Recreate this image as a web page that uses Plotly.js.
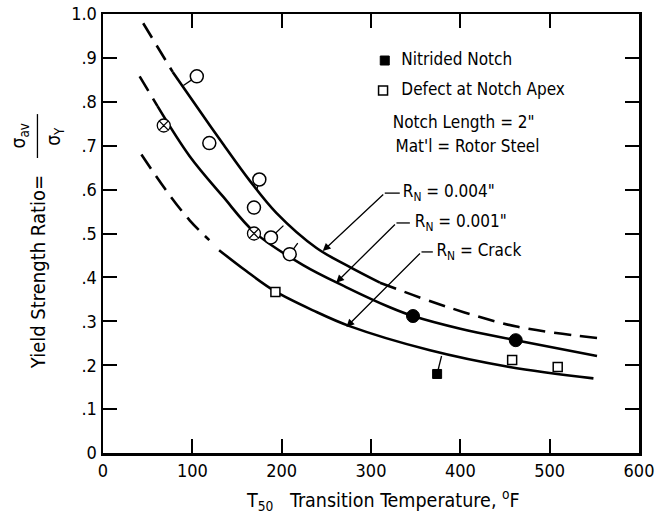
<!DOCTYPE html>
<html><head><meta charset="utf-8">
<script src="https://cdn.plot.ly/plotly-3.0.1.min.js"></script>
<style>html,body{margin:0;padding:0;background:#fff}#chart{width:660px;height:521px}</style>
</head><body><div id="chart"></div>
<script>
// ---- axis ticks ----
const xTickVals = [0, 100, 200, 300, 400, 500, 600];
const xTickText = ['0', '100', '200', '300', '400', '500', '600'];
const yTickVals = [0, 0.1, 0.2, 0.3, 0.4, 0.5, 0.6, 0.7, 0.8, 0.9, 1.0];
const yTickText = ['0', '.1', '.2', '.3', '.4', '.5', '.6', '.7', '.8', '.9', '1.0'];

// ---- curves ----
const rn004X = [45, 78, 108, 134, 164, 194, 239, 276, 310, 385, 463, 553];
const rn004Y = [0.979, 0.868, 0.780, 0.705, 0.621, 0.547, 0.467, 0.424, 0.388, 0.333, 0.288, 0.262];
const rn004Solid = [78, 310];

const rn001X = [41, 61, 97, 134, 170, 224, 272, 321, 347, 400, 462, 553];
const rn001Y = [0.858, 0.790, 0.676, 0.585, 0.502, 0.428, 0.378, 0.332, 0.312, 0.283, 0.257, 0.221];
const rn001Solid = [61, 553];

const crackX = [43, 70, 97, 119, 130, 160, 193, 235, 276, 366, 455, 549];
const crackY = [0.680, 0.600, 0.530, 0.485, 0.462, 0.415, 0.368, 0.325, 0.289, 0.234, 0.196, 0.170];
const crackDashEnd = 119;
const crackSolid = [130, 549];

// ---- test points ----
const openCircleX = [105, 119, 175, 169, 188, 209];
const openCircleY = [0.858, 0.706, 0.623, 0.559, 0.491, 0.453];
const crossCircleX = [68, 169];
const crossCircleY = [0.746, 0.500];
const filledCircleX = [347, 462];
const filledCircleY = [0.312, 0.257];
const defectSquareX = [193, 458, 509];
const defectSquareY = [0.367, 0.212, 0.196];
const nitridedX = [374];
const nitridedY = [0.180];

// tags from points to curves
const tagX = [105, 90, null, 175, 172, null, 188, 202, null, 209, 218, null, 374, 379];
const tagY = [0.858, 0.837, null, 0.623, 0.598, null, 0.491, 0.518, null, 0.453, 0.478, null, 0.180, 0.221];

// curve labels with leaders
const curveLabels = ['R<sub>N</sub> = 0.004"', 'R<sub>N</sub> = 0.001"', 'R<sub>N</sub> = Crack'];
const labelTipX = [246, 261, 272.5];
const labelTipY = [0.460, 0.388, 0.287];
const labelElbowX = [315.4, 328.5, 356.5];
const labelElbowY = [0.592, 0.524, 0.458];
const labelEndX = [332.2, 343.5, 369.2];
const labelTextX = [335.6, 349, 373.3];

// key / notes
const keyLabels = ['Nitrided Notch', 'Defect at Notch Apex'];
const noteLabels = ['Notch Length = 2"', "Mat'l = Rotor Steel"];

const FONT = '"Liberation Sans Narrow", "DejaVu Sans Condensed", "Roboto Condensed", "Arial Narrow", "Open Sans", sans-serif';
const BLACK = '#000';

function seg(xs, ys, lo, hi) {
  const ox = [], oy = [];
  xs.forEach((x, i) => { if (x >= lo && x <= hi) { ox.push(x); oy.push(ys[i]); } });
  return [ox, oy];
}
function lineTrace(xy, dashed) {
  return {x: xy[0], y: xy[1], mode: 'lines', type: 'scatter', hoverinfo: 'skip',
    line: {color: BLACK, width: 2.6, shape: 'spline', smoothing: 1.0,
           dash: dashed ? '17px,9px' : 'solid'}};
}
function textTrace(xs, ys, texts, size) {
  return {x: xs, y: ys, text: texts, mode: 'text', type: 'scatter', hoverinfo: 'skip',
    textposition: 'middle right', textfont: {family: FONT, size: size, color: BLACK}};
}

const traces = [];
traces.push(lineTrace(seg(rn004X, rn004Y, rn004X[0], rn004Solid[0]), true));
traces.push(lineTrace(seg(rn004X, rn004Y, rn004Solid[0], rn004Solid[1]), false));
traces.push(lineTrace(seg(rn004X, rn004Y, rn004Solid[1], rn004X[rn004X.length - 1]), true));
traces.push(lineTrace(seg(rn001X, rn001Y, rn001X[0], rn001Solid[0]), true));
traces.push(lineTrace(seg(rn001X, rn001Y, rn001Solid[0], rn001Solid[1]), false));
traces.push(lineTrace(seg(crackX, crackY, crackX[0], crackDashEnd), true));
traces.push(lineTrace(seg(crackX, crackY, crackSolid[0], crackSolid[1]), false));

traces.push({x: tagX, y: tagY, mode: 'lines', hoverinfo: 'skip', connectgaps: false,
  line: {color: BLACK, width: 1.3}});

traces.push({x: openCircleX, y: openCircleY, mode: 'markers',
  marker: {symbol: 'circle', size: 13, color: '#fff', line: {color: BLACK, width: 1.5}}});
traces.push({x: crossCircleX, y: crossCircleY, mode: 'markers',
  marker: {symbol: 'circle-x', size: 13, color: '#fff', line: {color: BLACK, width: 1.3}}});
traces.push({x: filledCircleX, y: filledCircleY, mode: 'markers',
  marker: {symbol: 'circle', size: 13, color: BLACK, line: {color: BLACK, width: 1}}});
traces.push({x: defectSquareX, y: defectSquareY, mode: 'markers',
  marker: {symbol: 'square', size: 9, color: '#fff', line: {color: BLACK, width: 1.5}}});
traces.push({x: nitridedX, y: nitridedY, mode: 'markers',
  marker: {symbol: 'square', size: 9, color: BLACK, line: {color: BLACK, width: 1}}});

// key markers
traces.push({x: [315.4], y: [0.894], mode: 'markers',
  marker: {symbol: 'square', size: 9, color: BLACK, line: {color: BLACK, width: 1}}});
traces.push({x: [313.5], y: [0.826], mode: 'markers',
  marker: {symbol: 'square', size: 9, color: '#fff', line: {color: BLACK, width: 1.5}}});

// horizontal texts
traces.push(textTrace([334, 334], [0.894, 0.826], keyLabels, 17));
traces.push(textTrace([324.4, 327.4], [0.751, 0.696], noteLabels, 17));
traces.push(textTrace(labelTextX, labelElbowY, curveLabels, 17));

const annotations = [];
const shapes = [];
const txt = (size) => ({family: FONT, size: size, color: BLACK});

// leader arrows
curveLabels.forEach((t, i) => {
  annotations.push({x: labelTipX[i], y: labelTipY[i], ax: labelElbowX[i], ay: labelElbowY[i],
    xref: 'x', yref: 'y', axref: 'x', ayref: 'y', text: '', showarrow: true,
    arrowhead: 2, arrowsize: 1.2, arrowwidth: 1.3, arrowcolor: BLACK, standoff: 0});
  shapes.push({type: 'line', xref: 'x', yref: 'y', x0: labelElbowX[i], y0: labelElbowY[i],
    x1: labelEndX[i], y1: labelElbowY[i], line: {color: BLACK, width: 1.3}});
});

// x title
annotations.push({x: 0.522, y: -0.107, xref: 'paper', yref: 'paper', showarrow: false,
  text: 'T<sub>50</sub>   Transition Temperature, <sup>o</sup>F', font: txt(19.5), xanchor: 'center', yanchor: 'middle'});
// y title (rotated, with fraction)
annotations.push({x: -0.1223, y: 0.413, xref: 'paper', yref: 'paper', showarrow: false, textangle: -90,
  text: 'Yield Strength Ratio=', font: txt(20), xanchor: 'center', yanchor: 'middle'});
annotations.push({x: -0.156, y: 0.722, xref: 'paper', yref: 'paper', showarrow: false, textangle: -90,
  text: 'σ<sub>av</sub>', font: txt(19), xanchor: 'center', yanchor: 'middle'});
annotations.push({x: -0.092, y: 0.722, xref: 'paper', yref: 'paper', showarrow: false, textangle: -90,
  text: 'σ<sub>Y</sub>', font: txt(19), xanchor: 'center', yanchor: 'middle'});
shapes.push({type: 'line', xref: 'paper', yref: 'paper', x0: -0.1223, x1: -0.1223, y0: 0.672, y1: 0.772,
  line: {color: BLACK, width: 1.3}});

const axisCommon = {
  showgrid: false, zeroline: false, showline: true, linecolor: BLACK, linewidth: 2.5,
  mirror: 'ticks', ticks: 'inside', ticklen: 14, tickwidth: 2, tickcolor: BLACK,
  tickfont: {family: FONT, size: 18, color: BLACK}, tickmode: 'array', fixedrange: true
};

const layout = {
  width: 660, height: 521,
  margin: {l: 103, r: 21, t: 14, b: 68},
  paper_bgcolor: '#fff', plot_bgcolor: '#fff',
  showlegend: false,
  xaxis: Object.assign({}, axisCommon, {range: [0, 600], tickvals: xTickVals, ticktext: xTickText}),
  yaxis: Object.assign({}, axisCommon, {range: [0, 1.0], tickvals: yTickVals, ticktext: yTickText}),
  annotations: annotations,
  shapes: shapes
};

Plotly.newPlot('chart', traces, layout, {staticPlot: true, displayModeBar: false});
</script>
</body></html>
